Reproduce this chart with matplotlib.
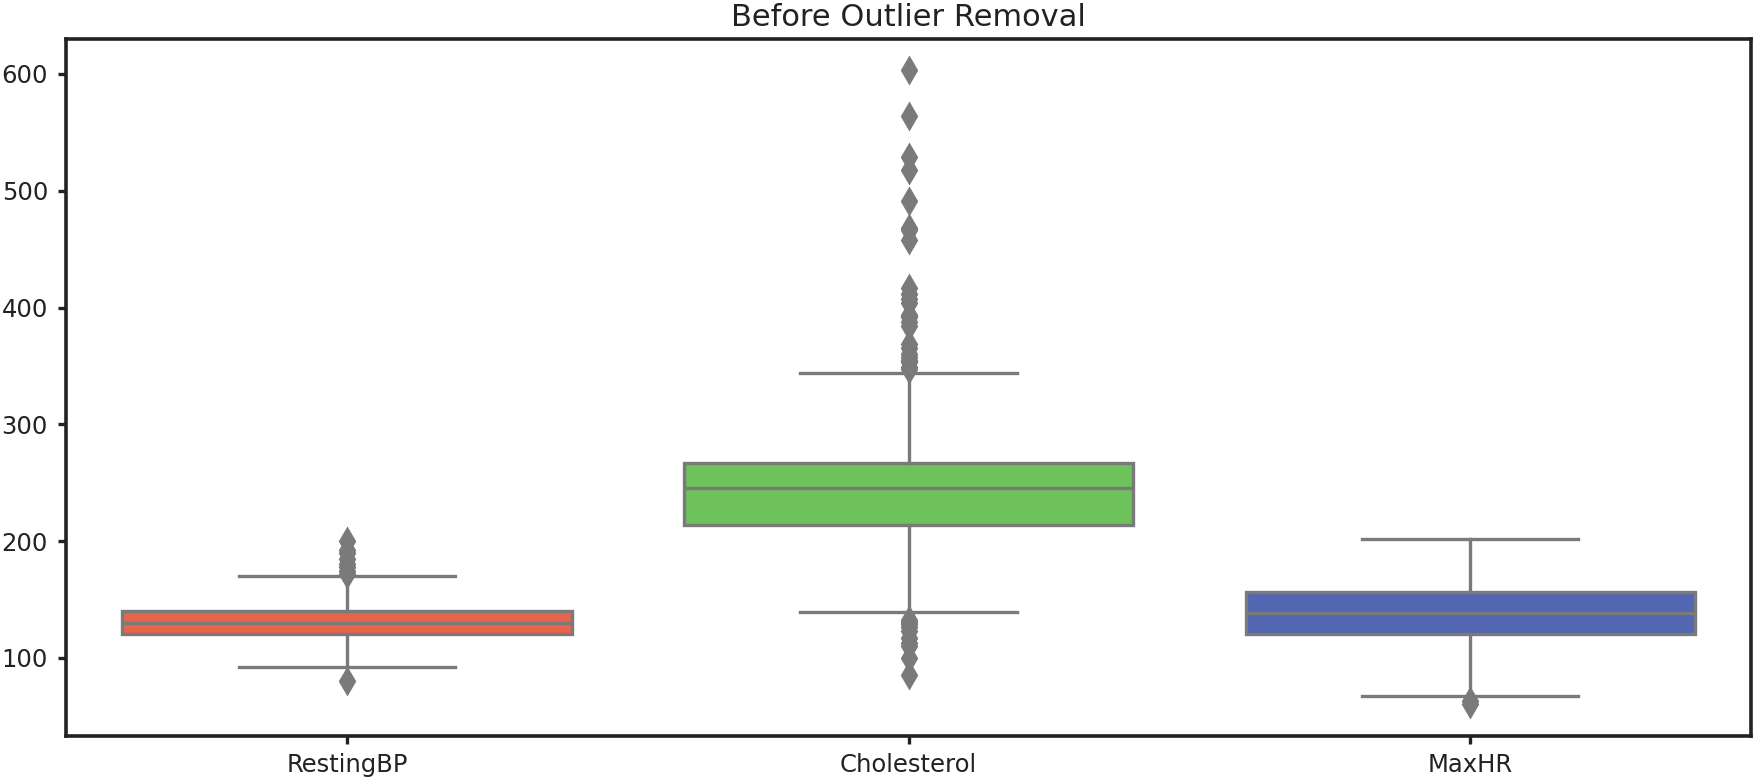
import matplotlib
matplotlib.use("Agg")
import matplotlib.pyplot as plt

# box statistics
features = ['RestingBP', 'Cholesterol', 'MaxHR']
q1 = [120, 214, 120]
median = [130, 245, 138]
q3 = [140, 267, 156]
whisker_low = [92, 139, 67]
whisker_high = [170, 344, 202]
fliers = [
    [80, 172, 174, 178, 180, 185, 190, 192, 200],
    [85, 100, 110, 113, 117, 123, 126, 129, 131, 132,
     347, 349, 353, 354, 355, 358, 360, 365, 369, 384, 388, 392, 393, 394,
     404, 407, 412, 417, 458, 466, 468, 491, 518, 529, 564, 603],
    [60, 63],
]
box_colors = ['#E8654C', '#6DC25C', '#5366B1']
line_gray = '#7A7A7A'

stats = []
for i in range(len(features)):
    stats.append({'label': features[i], 'q1': q1[i], 'med': median[i], 'q3': q3[i],
                  'whislo': whisker_low[i], 'whishi': whisker_high[i],
                  'fliers': fliers[i]})

fig = plt.figure(figsize=(17.57, 7.81), dpi=100)
ax = fig.add_axes([0.0376, 0.0576, 0.959, 0.8925])

lw = 2.4
bp = ax.bxp(stats, positions=range(len(features)), widths=0.8, capwidths=0.385,
            patch_artist=True,
            boxprops=dict(edgecolor=line_gray, linewidth=lw),
            medianprops=dict(color=line_gray, linewidth=lw),
            whiskerprops=dict(color=line_gray, linewidth=lw),
            capprops=dict(color=line_gray, linewidth=lw),
            flierprops=dict(marker='d', markersize=12, markerfacecolor=line_gray,
                            markeredgecolor=line_gray, markeredgewidth=2.2,
                            linestyle='none'))
for patch, c in zip(bp['boxes'], box_colors):
    patch.set_facecolor(c)

ax.set_xlim(-0.5, 2.5)
ax.set_ylim(33, 630)
ax.set_yticks([100, 200, 300, 400, 500, 600])
ax.set_title('Before Outlier Removal', fontsize=22, color='#222222', pad=9.5)
ax.tick_params(axis='both', labelsize=17.5, width=2.4, length=6, color='#222222',
               labelcolor='#222222')
ax.tick_params(axis='y', pad=7)
ax.tick_params(axis='x', pad=6)
for s in ax.spines.values():
    s.set_linewidth(2.6)
    s.set_color('#222222')

fig.savefig('out.png', dpi=100)
